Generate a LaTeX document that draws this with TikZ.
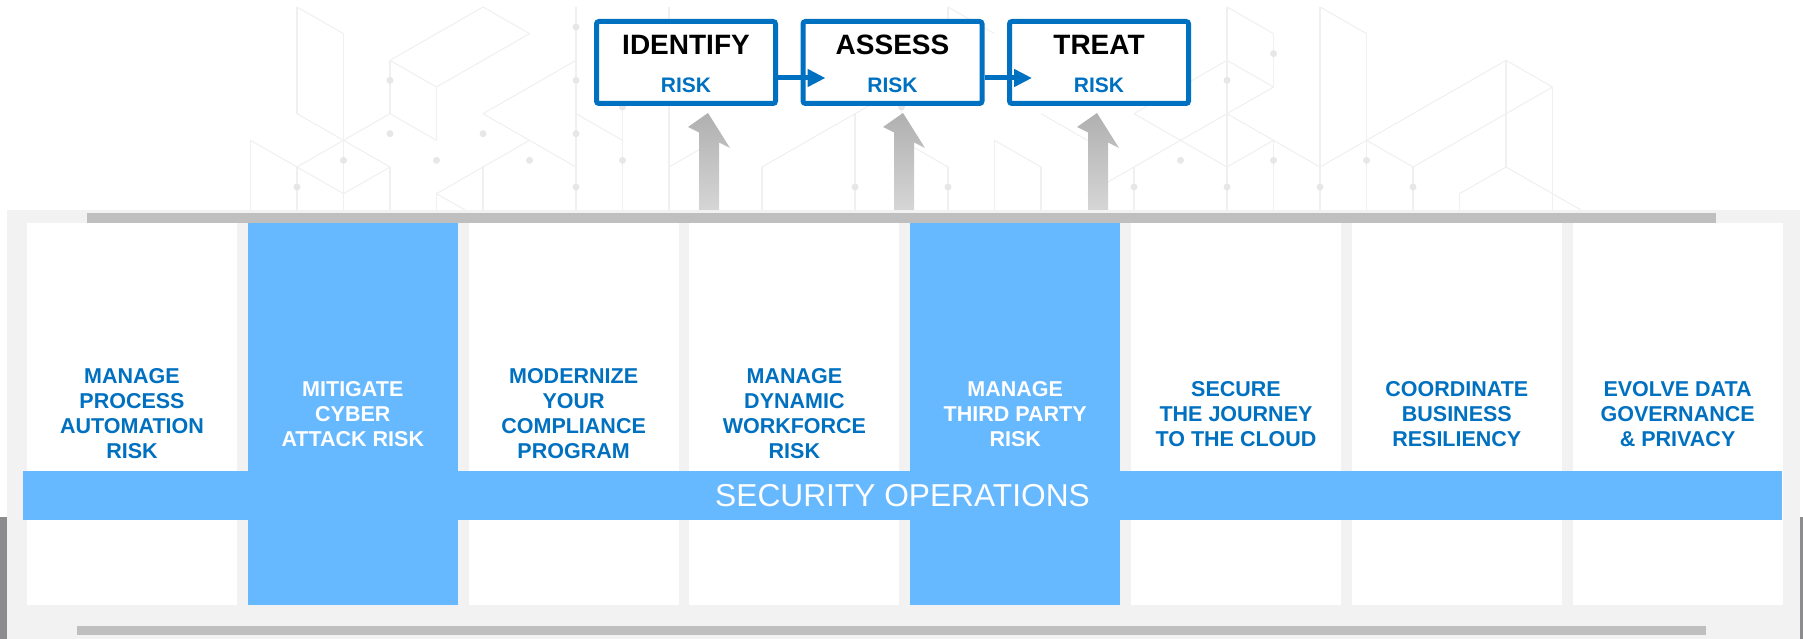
\documentclass[tikz,border=0pt]{standalone}
\usepackage{fontspec}
\setmainfont{Liberation Sans}
\usetikzlibrary{arrows.meta}
\definecolor{dblue}{HTML}{0070C0}
\definecolor{lblue}{HTML}{66B8FF}
\definecolor{panelg}{HTML}{F2F2F2}
\definecolor{barg}{HTML}{BFBFBF}
\definecolor{sideg}{HTML}{8C8C8E}
\definecolor{patl}{HTML}{F0F0F0}
\definecolor{patd}{HTML}{E7E7E7}
\begin{document}
\begin{tikzpicture}[x=1pt,y=-1pt,
  patline/.style={draw=patl, line width=1.1pt},
  patdot/.style={fill=patd},
  uparrow/.style={top color=black!31, bottom color=black!16},
  col/.style={rectangle, minimum width=210pt, minimum height=382pt, inner sep=0pt, outer sep=0pt, align=center, font=\bfseries\fontsize{21.5}{25}\selectfont},
  whitecol/.style={col, fill=white, text=dblue},
  bluecol/.style={col, fill=lblue, text=white},
  band/.style={rectangle, fill=lblue, text=white, minimum width=1759pt, minimum height=49pt, inner sep=0pt, font=\fontsize{31.7}{36}\selectfont},
  riskbox/.style={draw=dblue, fill=white, line width=5pt, minimum width=179pt, minimum height=82pt, rounded corners=2.5pt, inner sep=0pt},
  boxtitle/.style={font=\bfseries\fontsize{28}{30}\selectfont, text=black, inner sep=0pt, anchor=base},
  boxsub/.style={font=\bfseries\fontsize{21}{24}\selectfont, text=dblue, inner sep=0pt, anchor=base},
  conn/.style={draw=dblue, line width=5pt, -{Triangle[length=18pt,width=17pt]}}
]
\useasboundingbox (0,0) rectangle (1803,639);

% background isometric pattern
\begin{scope}
\clip (0,0) rectangle (1803,210);
\foreach \a/\b/\c/\d in {
 0/0/0/4, 0/6/0/8, 1/1/1/8, 2/2/2/4, 2/6/2/8, 3/3/3/5, 3/7/3/8, -1/5/-1/8, 4/6/4/8, 6/0/6/8,
 0/0/1/1, 0/4/1/5, 2/2/4/0, 4/0/5/1, 5/1/3/3, 2/2/3/3, 2/4/3/5, 1/5/2/4, 0/6/1/5, 1/5/2/6,
 -1/5/0/6, 4/4/6/2, 4/4/5/5, 3/7/5/5, 5/5/6/6, 0/6/1/7, 1/7/2/6, 3/7/4/8,
 7/3/7/8, 8/0/8/8, 6/4/7/5, 7/3/8/2, 9/5/9/8, 8/6/9/5, 10/6/12/4, 10/6/10/8, 12/4/12/8,
 13/3/13/5, 12/4/13/3, 13/5/14/6, 14/6/14/8, 14/0/14/2, 14/0/15/1, 13/3/14/2,
 20/0/20/8, 20/0/21/1, 21/1/21/3, 18/4/20/2, 20/2/21/3, 21/3/19/5, 19/5/18/4, 22/0/22/8,
 22/0/23/1, 23/1/23/8, 17/7/19/5, 20/6/21/5, 21/5/21/8, 15/5/16/6, 16/6/16/8, 15/5/15/8,
 16/4/17/5, 19/5/20/6, 18/6/18/8, 20/4/22/6, 22/6/23/5,
 23/5/24/6, 24/6/24/8, 23/5/26/2, 26/2/27/3, 26/2/26/6, 27/3/27/8, 27/3/24/6,
 25/7/26/6, 26/6/27/7, 27/7/28/8, 25/7/25/8}
  \draw[patline] ({297+46.5*\a},{7+26.67*\b}) -- ({297+46.5*\c},{7+26.67*\d});
\foreach \a/\b in {2/2, 2/4, 1/5, 0/6, 3/5, 4/4, 5/5, 6/6, 6/4, 6/2, 6/0, 7/3, 7/5, 9/5,
 12/6, 14/6, 13/3, 21/1, 20/2, 19/5, 18/6, 20/6, 21/5, 22/6, 23/5, 24/6}
  \fill[patdot] ({297+46.5*\a},{27+26.67*\b}) circle (3.5);
\end{scope}

% gray up arrows
\foreach \L in {699,894,1088}
  \shade[uparrow] (\L,211) -- (\L,132.5) -- ({\L-11},127) -- ({\L+9},113) -- ({\L+31},148) -- ({\L+20},142.5) -- ({\L+20},211) -- cycle;

% panel
\fill[panelg] (7,210) rectangle (1800,639);
\fill[sideg] (0,517) rectangle (7,639);
\fill[sideg] (1800,517) rectangle (1803,639);
\fill[barg] (87,213) rectangle (1716,223);
\fill[barg] (77,626) rectangle (1706,635);

% columns
\node[whitecol] (c1) at (132,414) {MANAGE\\PROCESS\\AUTOMATION\\RISK};
\node[bluecol]  (c2) at (352.8,414) {MITIGATE\\CYBER\\ATTACK RISK};
\node[whitecol] (c3) at (573.6,414) {MODERNIZE\\YOUR\\COMPLIANCE\\PROGRAM};
\node[whitecol] (c4) at (794.4,414) {MANAGE\\DYNAMIC\\WORKFORCE\\RISK};
\node[bluecol]  (c5) at (1015.2,414) {MANAGE\\THIRD PARTY\\RISK};
\node[whitecol] (c6) at (1236,414) {SECURE\\THE JOURNEY\\TO THE CLOUD};
\node[whitecol] (c7) at (1456.8,414) {COORDINATE\\BUSINESS\\RESILIENCY};
\node[whitecol] (c8) at (1677.6,414) {EVOLVE DATA\\GOVERNANCE\\\& PRIVACY};

% band
\node[band] (secops) at (902.5,495.5) {SECURITY OPERATIONS};

% top boxes
\node[riskbox] (identify) at (686,62.5) {};
\node[riskbox] (assess) at (892.5,62.5) {};
\node[riskbox] (treat) at (1099,62.5) {};
\node[boxtitle] (identifyT) at (686,55) {IDENTIFY};
\node[boxsub] (identifyR) at (686,93) {RISK};
\node[boxtitle] (assessT) at (892.5,55) {ASSESS};
\node[boxsub] (assessR) at (892.5,93) {RISK};
\node[boxtitle] (treatT) at (1099,55) {TREAT};
\node[boxsub] (treatR) at (1099,93) {RISK};

\draw[conn] ([yshift=-15.5pt]identify.east) -- ([xshift=25pt,yshift=-15.5pt]assess.west);
\draw[conn] ([yshift=-15.5pt]assess.east) -- ([xshift=25pt,yshift=-15.5pt]treat.west);
\end{tikzpicture}
\end{document}
